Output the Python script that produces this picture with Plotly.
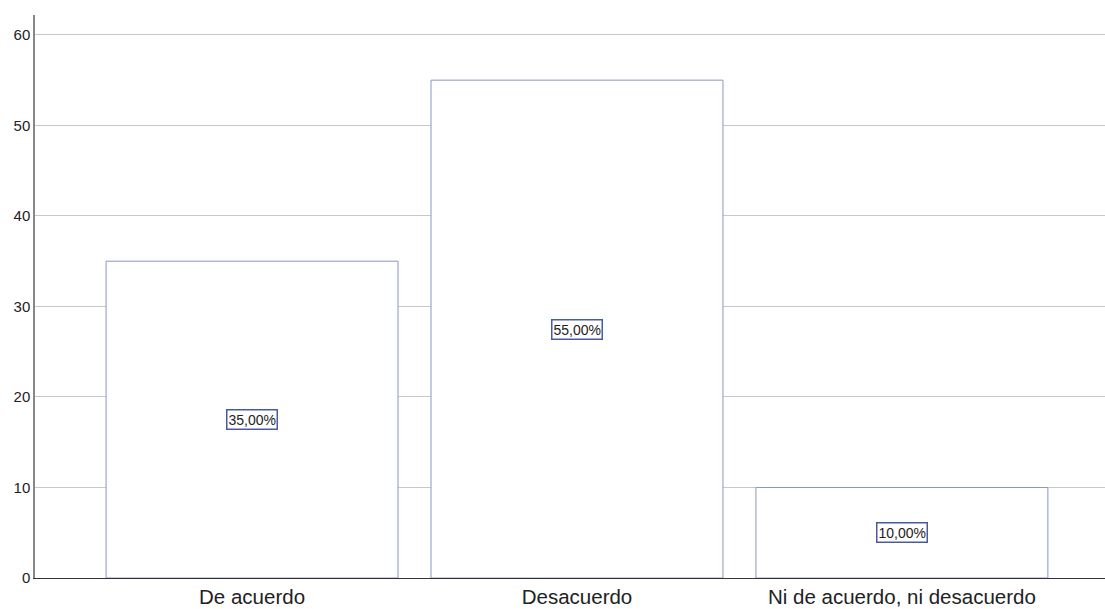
import plotly.graph_objects as go

categories = ["De acuerdo", "Desacuerdo", "Ni de acuerdo, ni desacuerdo"]
values = [35, 55, 10]
y_ticks = [0, 10, 20, 30, 40, 50, 60]

total = sum(values)
pct_labels = [f"{v / total * 100:.2f}%".replace(".", ",") for v in values]

border = "#8a96c4"

fig = go.Figure()
fig.add_trace(go.Bar(
    x=categories,
    y=values,
    marker=dict(color="white", line=dict(color=border, width=1)),
    hoverinfo="skip",
))

for cat, v, lab in zip(categories, values, pct_labels):
    fig.add_annotation(
        x=cat, y=v / 2, text=lab, showarrow=False,
        font=dict(family="Liberation Sans, Arial, sans-serif", size=14, color="#222"),
        bgcolor="white", bordercolor="#4a5aa0", borderwidth=1.5, borderpad=1,
    )

fig.update_layout(
    width=1105, height=609,
    margin=dict(l=35, r=0, t=15, b=31),
    paper_bgcolor="white", plot_bgcolor="white",
    bargap=0.1015,
    showlegend=False,
    font=dict(family="Liberation Sans, Arial, sans-serif", color="#222"),
)
fig.update_xaxes(
    range=[-0.668, 2.625],
    showline=True, linecolor="#333", linewidth=1,
    showgrid=False, ticks="",
    tickfont=dict(size=20.5),
)
fig.update_yaxes(
    range=[0, 62.2],
    tickvals=y_ticks,
    showline=True, linecolor="#888", linewidth=1.5,
    showgrid=True, gridcolor="#c8c8c8", gridwidth=1,
    zeroline=False, ticks="",
    tickfont=dict(size=15),
)

fig.write_html("out.html")
